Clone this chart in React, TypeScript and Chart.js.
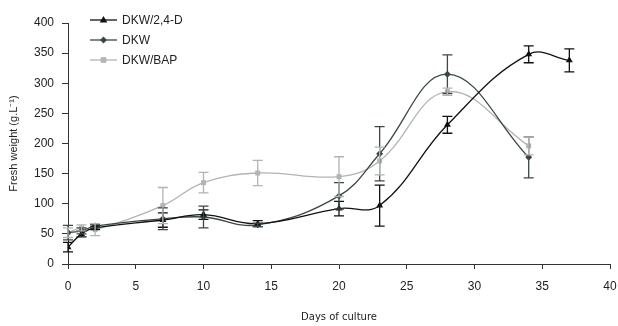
import React, { useEffect, useRef } from "react";
import { Chart, registerables } from "chart.js";

Chart.register(...registerables);

const days = [0, 1, 2, 7, 10, 14, 20, 23, 28, 34, 37];
const seriesNames = ["DKW/2,4-D", "DKW", "DKW/BAP"];
const d24Values = [28, 50, 60, 73, 82, 67, 92, 97, 231, 348, 338];
const d24Errors = [8, 5, 3, 12, 8, 5, 12, 34, 14, 14, 19];
const dkwValues = [52, 55, 63, 75, 78, 65, 113, 183, 315, 177];
const dkwErrors = [12, 5, 3, 18, 18, 3, 22, 45, 32, 34];
const bapValues = [52, 60, 57, 97, 135, 151, 145, 171, 286, 196];
const bapErrors = [8, 5, 10, 30, 17, 21, 33, 23, 6, 15];
const xTitle = "Days of culture";
const yTitle = "Fresh weight (g.L\u207B\u00B9)";

const colors = ["#111111", "#3b4843", "#b3b3b3"];
const styles = ["triangle", "rectRot", "rect"];
const radii = [4, 3.5, 3.5];

const errorsBySeries = [d24Errors, dkwErrors, bapErrors];

const errorBarPlugin = {
  id: "errorBars",
  afterDatasetsDraw(chart: any) {
    const ctx = chart.ctx;
    const xs = chart.scales.x;
    const ys = chart.scales.y;
    chart.data.datasets.forEach((ds: any, i: number) => {
      const errs = errorsBySeries[i];
      ctx.save();
      ctx.strokeStyle = colors[i];
      ctx.lineWidth = 1.3;
      ds.data.forEach((p: any, j: number) => {
        const e = errs[j];
        const px = xs.getPixelForValue(p.x);
        const top = ys.getPixelForValue(p.y + e);
        const bot = ys.getPixelForValue(p.y - e);
        ctx.beginPath();
        ctx.moveTo(px, top);
        ctx.lineTo(px, bot);
        ctx.moveTo(px - 5, top);
        ctx.lineTo(px + 5, top);
        ctx.moveTo(px - 5, bot);
        ctx.lineTo(px + 5, bot);
        ctx.stroke();
      });
      ctx.restore();
    });
  },
};

function drawMarker(ctx: any, style: string, r: number, x: number, y: number, color: string) {
  ctx.fillStyle = color;
  ctx.beginPath();
  if (style === "triangle") {
    ctx.moveTo(x, y - r);
    ctx.lineTo(x + r * 0.95, y + r * 0.6);
    ctx.lineTo(x - r * 0.95, y + r * 0.6);
    ctx.closePath();
  } else if (style === "rectRot") {
    ctx.moveTo(x, y - r);
    ctx.lineTo(x + r, y);
    ctx.lineTo(x, y + r);
    ctx.lineTo(x - r, y);
    ctx.closePath();
  } else {
    ctx.rect(x - r * 0.8, y - r * 0.8, r * 1.6, r * 1.6);
  }
  ctx.fill();
}

const legendPlugin = {
  id: "customLegend",
  afterDraw(chart: any) {
    const ctx = chart.ctx;
    ctx.save();
    seriesNames.forEach((name, i) => {
      const y = 20 + i * 20;
      ctx.strokeStyle = colors[i];
      ctx.lineWidth = 1.3;
      ctx.beginPath();
      ctx.moveTo(90, y);
      ctx.lineTo(117, y);
      ctx.stroke();
      drawMarker(ctx, styles[i], radii[i], 103.5, y, colors[i]);
      ctx.fillStyle = "#222";
      ctx.font = "12px 'Liberation Sans', Arial, sans-serif";
      ctx.textAlign = "left";
      ctx.textBaseline = "middle";
      ctx.fillText(name, 122, y + 0.5);
    });
    ctx.restore();
  },
};

export default function App() {
  const ref = useRef<HTMLCanvasElement | null>(null);
  useEffect(() => {
    document.body.style.margin = "0";
    const valuesBySeries = [d24Values, dkwValues, bapValues];
    const chart = new Chart(ref.current as HTMLCanvasElement, {
      type: "line",
      data: {
        datasets: seriesNames.map((name, i) => ({
          label: name,
          data: valuesBySeries[i].map((v, j) => ({ x: days[j], y: v })),
          borderColor: colors[i],
          backgroundColor: colors[i],
          borderWidth: 1.3,
          pointStyle: styles[i] as any,
          pointRadius: radii[i],
          pointBorderWidth: 0,
          tension: 0.4,
          fill: false,
        })),
      },
      options: {
        responsive: false,
        animation: false,
        layout: { padding: { top: 23, right: 8, left: 0, bottom: 0 } },
        plugins: { legend: { display: false }, tooltip: { enabled: false } },
        scales: {
          x: {
            type: "linear",
            min: 0,
            max: 40,
            afterFit: (s: any) => {
              s.height = 62;
              s.paddingRight = 0;
              s.paddingLeft = 0;
            },
            ticks: {
              stepSize: 5,
              padding: 10,
              color: "#222",
              font: { family: "'Liberation Sans', Arial, sans-serif", size: 12 },
            },
            grid: { drawOnChartArea: false, drawTicks: true, tickLength: 5, color: "#333" },
            border: { color: "#333", width: 1 },
            title: {
              display: true,
              text: xTitle,
              color: "#222",
              padding: { top: 0, bottom: 3 },
              font: { family: "'DejaVu Sans', Verdana, sans-serif", size: 10 },
            },
          },
          y: {
            min: 0,
            max: 400,
            afterFit: (s: any) => {
              s.width = 68;
            },
            ticks: {
              stepSize: 50,
              padding: 8,
              color: "#222",
              font: { family: "'Liberation Sans', Arial, sans-serif", size: 12 },
            },
            grid: { drawOnChartArea: false, drawTicks: true, tickLength: 6, color: "#333" },
            border: { color: "#333", width: 1 },
            title: {
              display: true,
              text: yTitle,
              color: "#222",
              padding: { top: 7, bottom: 0 },
              font: { family: "'Liberation Sans', Arial, sans-serif", size: 11 },
            },
          },
        },
      },
      plugins: [errorBarPlugin, legendPlugin],
    });
    return () => chart.destroy();
  }, []);
  return (
    <div style={{ width: 618, height: 326 }}>
      <canvas ref={ref} width={618} height={326} />
    </div>
  );
}
